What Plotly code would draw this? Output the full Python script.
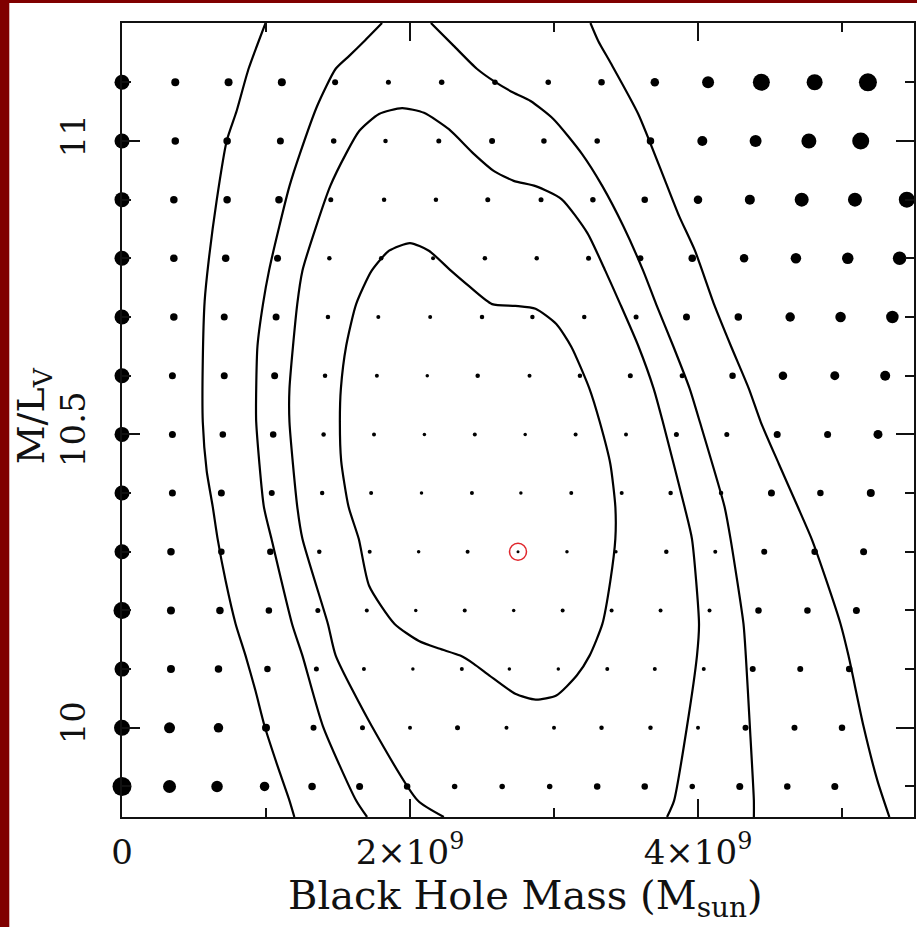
import plotly.graph_objects as go

# grid of models: one row per M/L, masses in units of 1e9 M_sun
ml_rows = [9.9, 10.0, 10.1, 10.2, 10.3, 10.4, 10.5, 10.6, 10.7, 10.8, 10.9, 11.0, 11.1]

bh_mass = [
    [0, 0.33, 0.66, 0.99, 1.32, 1.65, 1.98, 2.31, 2.64, 2.97, 3.30, 3.63, 3.96, 4.29, 4.62, 4.95],
    [0, 0.33, 0.67, 1.00, 1.33, 1.67, 2.00, 2.33, 2.67, 3.00, 3.33, 3.67, 4.00, 4.33, 4.67, 5.00],
    [0, 0.34, 0.67, 1.01, 1.35, 1.68, 2.02, 2.36, 2.69, 3.03, 3.37, 3.70, 4.04, 4.38, 4.71, 5.05],
    [0, 0.34, 0.68, 1.02, 1.36, 1.70, 2.04, 2.38, 2.72, 3.06, 3.40, 3.74, 4.08, 4.42, 4.76, 5.10],
    [0, 0.34, 0.69, 1.03, 1.37, 1.72, 2.06, 2.40, 2.75, 3.09, 3.43, 3.78, 4.12, 4.46, 4.81, 5.15],
    [0, 0.35, 0.69, 1.04, 1.39, 1.73, 2.08, 2.43, 2.77, 3.12, 3.47, 3.81, 4.16, 4.51, 4.85, 5.20],
    [0, 0.35, 0.70, 1.05, 1.40, 1.75, 2.10, 2.45, 2.80, 3.15, 3.50, 3.85, 4.20, 4.55, 4.90, 5.25],
    [0, 0.35, 0.71, 1.06, 1.41, 1.77, 2.12, 2.47, 2.83, 3.18, 3.53, 3.89, 4.24, 4.59, 4.95, 5.30],
    [0, 0.36, 0.71, 1.07, 1.43, 1.78, 2.14, 2.50, 2.85, 3.21, 3.57, 3.92, 4.28, 4.64, 4.99, 5.35],
    [0, 0.36, 0.72, 1.08, 1.44, 1.80, 2.16, 2.52, 2.88, 3.24, 3.60, 3.96, 4.32, 4.68, 5.04, 5.40],
    [0, 0.36, 0.73, 1.09, 1.45, 1.82, 2.18, 2.54, 2.91, 3.27, 3.63, 4.00, 4.36, 4.72, 5.09, 5.45],
    [0, 0.37, 0.73, 1.10, 1.47, 1.83, 2.20, 2.57, 2.93, 3.30, 3.67, 4.03, 4.40, 4.77, 5.13],
    [0, 0.37, 0.74, 1.11, 1.48, 1.85, 2.22, 2.59, 2.96, 3.33, 3.70, 4.07, 4.44, 4.81, 5.18],
]

# relative chi^2 symbol weight of each model
chi2_weight = [
    [19, 13, 11.5, 9.5, 7.5, 7, 6.5, 5.5, 5.5, 5.5, 6.5, 6.5, 5.5, 7, 6.5, 7],
    [16, 11, 9.5, 8, 6, 5, 4, 5, 4, 4, 4.5, 4.5, 4, 6, 6, 6.5],
    [15, 8, 7.5, 6.5, 5, 4, 3.5, 4, 3.5, 3.5, 4, 4, 4, 6, 6, 6.5],
    [17, 8, 7.5, 6.5, 5, 4, 3.5, 4, 3.5, 4, 4, 4, 4, 6.5, 6.5, 7],
    [15, 7.5, 6.5, 6.5, 4.5, 4, 3.5, 4, 3, 3.5, 3.5, 4.5, 4, 6, 6.5, 7],
    [15, 7, 7, 6, 4.5, 4, 3.5, 4, 3.5, 4, 4, 4.5, 4.5, 7, 6.5, 8],
    [15, 7, 6.5, 6.5, 4.5, 4, 3.5, 4, 3.5, 4, 4, 5, 5, 7, 7, 9],
    [15, 7, 7, 7, 4.5, 4, 3.5, 4.5, 4, 4.5, 5, 5, 6.5, 8.5, 9, 10],
    [15, 7.5, 7, 7, 4.5, 4, 4, 4.5, 4.5, 4.5, 5, 7, 7.5, 9.5, 10.5, 12.5],
    [15, 7.5, 7.5, 7, 4.5, 4.5, 4, 4.5, 4.5, 5, 6, 7.5, 8.5, 10.5, 11.5, 13.5],
    [15, 7.5, 7.5, 7.5, 5, 4.5, 4.5, 5, 5, 5.5, 6.5, 8.5, 10, 14, 14, 16],
    [15, 7.5, 7.5, 7, 5.5, 4.5, 5, 6, 5.5, 5.5, 7.5, 10, 12, 15, 17],
    [15, 8, 8, 8, 6, 5, 5.5, 5.5, 5.5, 6.5, 8.5, 12, 17, 16, 18],
]

best_mass = [2.75]
best_ml = [10.3]

# confidence contours
c1_mass = [2.000, 2.131, 2.284, 2.408, 2.570, 2.731, 2.872, 3.016, 3.121, 3.246, 3.318, 3.391,
           3.426, 3.426, 3.391, 3.336, 3.247, 3.158, 3.016, 2.873, 2.731, 2.552, 2.443, 2.349,
           2.201, 2.062, 1.893, 1.716, 1.644, 1.573, 1.522, 1.513, 1.520, 1.557, 1.626, 1.734,
           1.855, 2.000]
c1_ml = [10.826, 10.813, 10.779, 10.753, 10.722, 10.719, 10.714, 10.688, 10.649, 10.578, 10.521,
         10.450, 10.377, 10.322, 10.250, 10.177, 10.123, 10.089, 10.055, 10.048, 10.058, 10.089,
         10.109, 10.123, 10.135, 10.148, 10.177, 10.242, 10.322, 10.377, 10.455, 10.521, 10.578,
         10.651, 10.722, 10.779, 10.813, 10.826]

c2_mass = [2.235, 2.054, 1.734, 1.484, 1.430, 1.253, 1.217, 1.163, 1.163, 1.217, 1.253, 1.349,
           1.446, 1.555, 1.647, 1.785, 1.945, 2.097, 2.270, 2.443, 2.581, 2.720, 2.872, 3.052,
           3.232, 3.356, 3.460, 3.585, 3.692, 3.756, 3.906, 3.958, 4.007, 3.993, 3.924, 3.834,
           3.785]
c2_ml = [9.848, 9.876, 10.003, 10.123, 10.177, 10.322, 10.377, 10.521, 10.578, 10.722, 10.779,
         10.855, 10.923, 10.978, 11.017, 11.046, 11.056, 11.048, 11.020, 10.978, 10.949, 10.932,
         10.923, 10.901, 10.843, 10.779, 10.722, 10.651, 10.578, 10.521, 10.377, 10.322, 10.177,
         10.123, 10.003, 9.876, 9.848]

c3_left_mass = [1.806, 1.682, 1.578, 1.484, 1.356, 1.235, 1.163, 1.093, 1.021, 0.979, 0.941,
                0.932, 0.932, 0.985, 1.038, 1.181, 1.253, 1.395, 1.626, 1.702]
c3_left_ml = [11.201, 11.170, 11.145, 11.123, 11.060, 10.978, 10.923, 10.855, 10.779, 10.722,
              10.651, 10.578, 10.521, 10.377, 10.322, 10.177, 10.123, 10.003, 9.876, 9.848]
c3_right_mass = [2.145, 2.304, 2.464, 2.588, 2.720, 2.837, 2.997, 3.194, 3.336, 3.481, 3.619,
                 3.709, 3.827, 3.942, 4.013, 4.184, 4.226, 4.316, 4.332, 4.360, 4.388, 4.388]
c3_right_ml = [11.201, 11.162, 11.123, 11.101, 11.082, 11.068, 11.037, 10.978, 10.923, 10.855,
               10.779, 10.722, 10.651, 10.578, 10.521, 10.377, 10.322, 10.177, 10.123, 10.003,
               9.876, 9.848]

c4_left_mass = [0.997, 0.879, 0.796, 0.727, 0.657, 0.602, 0.574, 0.561, 0.561, 0.588, 0.630,
                0.664, 0.720, 0.789, 0.858, 0.927, 0.990, 1.080, 1.163, 1.197]
c4_left_ml = [11.201, 11.123, 11.051, 11.000, 10.898, 10.796, 10.727, 10.625, 10.521, 10.438,
              10.377, 10.322, 10.250, 10.177, 10.123, 10.063, 10.003, 9.935, 9.876, 9.848]
c4_right_mass = [3.253, 3.308, 3.398, 3.585, 3.772, 3.869, 3.979, 4.111, 4.228, 4.353, 4.436,
                 4.561, 4.692, 4.789, 4.893, 4.990, 5.045, 5.149, 5.246, 5.329]
c4_right_ml = [11.201, 11.170, 11.131, 11.046, 10.932, 10.872, 10.813, 10.722, 10.651, 10.578,
               10.521, 10.450, 10.377, 10.322, 10.250, 10.177, 10.123, 10.003, 9.910, 9.848]

x_tickvals = [0, 2, 4]
x_ticktext = ['0', '2×10<sup>9</sup>', '4×10<sup>9</sup>']
y_tickvals = [10, 10.5, 11]
y_ticktext = ['10', '10.5', '11']

FONT = 'DejaVu Serif'
INK = '#111111'

xs, ys, sizes = [], [], []
for ml, row_m, row_w in zip(ml_rows, bh_mass, chi2_weight):
    for m, w in zip(row_m, row_w):
        xs.append(m)
        ys.append(ml)
        sizes.append(w)

fig = go.Figure()

fig.add_trace(go.Scatter(x=xs, y=ys, mode='markers',
                         marker=dict(color='black', size=sizes, line_width=0, opacity=1),
                         cliponaxis=False, hoverinfo='skip'))

contours = [(c1_mass, c1_ml), (c2_mass, c2_ml),
            (c3_left_mass, c3_left_ml), (c3_right_mass, c3_right_ml),
            (c4_left_mass, c4_left_ml), (c4_right_mass, c4_right_ml)]
for cx, cy in contours:
    fig.add_trace(go.Scatter(x=cx, y=cy, mode='lines',
                             line=dict(color='black', width=2.2, shape='spline', smoothing=0.6),
                             hoverinfo='skip'))

fig.add_trace(go.Scatter(x=best_mass, y=best_ml, mode='markers',
                         marker=dict(symbol='circle-open', size=17, color='#e0262c', opacity=1,
                                     line=dict(width=1.5, color='#e0262c')),
                         cliponaxis=False, hoverinfo='skip'))

axis_common = dict(showline=True, linecolor=INK, linewidth=1.5, mirror='ticks',
                   ticks='inside', ticklen=18, tickwidth=1.5, tickcolor=INK,
                   showgrid=False, zeroline=False,
                   tickfont=dict(family=FONT, size=34, color=INK))

fig.update_xaxes(range=[0, 5.5], tickmode='array', tickvals=x_tickvals, ticktext=x_ticktext,
                 minor=dict(ticks='inside', ticklen=9, tickwidth=1.5, tickcolor=INK,
                            dtick=1, tick0=0),
                 ticklabelstandoff=4, **axis_common)
fig.update_yaxes(range=[9.848, 11.201], tickmode='array', tickvals=y_tickvals,
                 ticktext=y_ticktext, tickangle=-90,
                 minor=dict(ticks='inside', ticklen=9, tickwidth=1.5, tickcolor=INK,
                            dtick=0.1, tick0=10),
                 ticklabelstandoff=22, **axis_common)

fig.add_annotation(text='Black Hole Mass (M<sub>sun</sub>)', xref='paper', yref='paper',
                   x=0.51, y=-0.102, xanchor='center', yanchor='middle', showarrow=False,
                   font=dict(family=FONT, size=40, color=INK))
fig.add_annotation(text='M/L<sub>V</sub>', xref='paper', yref='paper',
                   x=-0.112, y=0.505, xanchor='center', yanchor='middle', showarrow=False,
                   textangle=-90, font=dict(family=FONT, size=38, color=INK))

# white page on the dark red backdrop
fig.add_shape(type='rect', xref='paper', yref='paper', x0=-0.1423, x1=1.02, y0=-0.2, y1=1.0252,
              fillcolor='white', line_width=0, layer='below')

fig.update_layout(width=917, height=927, showlegend=False,
                  margin=dict(l=122, r=1, t=23, b=110),
                  paper_bgcolor='#800000', plot_bgcolor='white')

fig.write_html('out.html', config={'displayModeBar': False},
               post_script="document.body.style.margin='0';document.body.style.overflow='hidden';")
